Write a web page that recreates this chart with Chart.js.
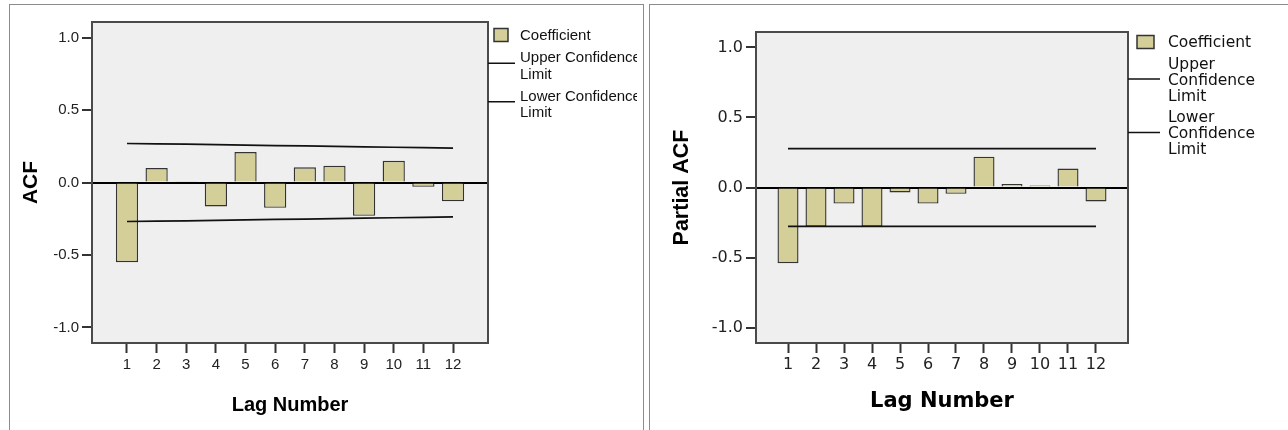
<!DOCTYPE html>
<html>
<head>
<meta charset="utf-8">
<title>ACF / PACF</title>
<script src="https://cdn.jsdelivr.net/npm/chart.js@4/dist/chart.umd.min.js"></script>
<style>
  html, body { margin: 0; padding: 0; background: #fff; width: 1288px; height: 430px; overflow: hidden; }
  .frame { position: absolute; top: 4px; height: 470px; border: 1px solid #8c8c8c; box-sizing: border-box; }
  #frameAcf { left: 9px; width: 635px; }
  #framePacf { left: 649px; width: 700px; }
  canvas { position: absolute; top: 0; }
  #acfChart { left: 0; }
  #pacfChart { left: 645px; }
</style>
</head>
<body>
<div class="frame" id="frameAcf"></div>
<div class="frame" id="framePacf"></div>
<canvas id="acfChart" width="637" height="430"></canvas>
<canvas id="pacfChart" width="643" height="430"></canvas>
<script>
// Lags and tick values
const lags = [1, 2, 3, 4, 5, 6, 7, 8, 9, 10, 11, 12];
const coefTicks = [-1.0, -0.5, 0.0, 0.5, 1.0];

// Autocorrelation function
const acfCoeff = [-0.55, 0.10, 0.006, -0.165, 0.21, -0.175, 0.105, 0.115, -0.23, 0.15, -0.03, -0.13];
const acfUpper = [0.269, 0.266, 0.264, 0.261, 0.258, 0.255, 0.252, 0.249, 0.246, 0.243, 0.240, 0.237];
const acfLower = [-0.269, -0.266, -0.264, -0.261, -0.258, -0.255, -0.252, -0.249, -0.246, -0.243, -0.240, -0.237];

// Partial autocorrelation function
const pacfCoeff = [-0.54, -0.28, -0.115, -0.28, -0.035, -0.115, -0.045, 0.22, 0.025, 0.015, 0.135, -0.10];
const pacfUpper = [0.277, 0.277, 0.277, 0.277, 0.277, 0.277, 0.277, 0.277, 0.277, 0.277, 0.277, 0.277];
const pacfLower = [-0.277, -0.277, -0.277, -0.277, -0.277, -0.277, -0.277, -0.277, -0.277, -0.277, -0.277, -0.277];

const seriesNames = ['Coefficient', 'Upper Confidence Limit', 'Lower Confidence Limit'];

const BAR_FILL = '#d4cf98';
const BAR_EDGE = '#333333';

// Grey plot area with a dark frame
const plotFrame = {
  id: 'plotFrame',
  beforeDraw(chart, args, o) {
    const { ctx, chartArea: a } = chart;
    ctx.save();
    ctx.fillStyle = o.fill;
    ctx.fillRect(a.left, a.top, a.right - a.left, a.bottom - a.top);
    ctx.restore();
  },
  afterDatasetsDraw(chart, args, o) {
    const { ctx, chartArea: a } = chart;
    ctx.save();
    ctx.strokeStyle = o.stroke;
    ctx.lineWidth = o.width;
    ctx.strokeRect(a.left, a.top, a.right - a.left, a.bottom - a.top);
    ctx.restore();
  }
};

function wrapWords(ctx, text, maxWidth) {
  const words = text.split(' ');
  const lines = [];
  let cur = '';
  words.forEach(w => {
    const test = cur ? cur + ' ' + w : w;
    if (cur && ctx.measureText(test).width > maxWidth) { lines.push(cur); cur = w; }
    else cur = test;
  });
  if (cur) lines.push(cur);
  return lines;
}

// Legend to the right of the plot: swatch for bars, short rule for limit lines
const sideLegend = {
  id: 'sideLegend',
  afterDraw(chart, args, o) {
    const ctx = chart.ctx;
    ctx.save();
    ctx.font = o.font;
    ctx.textBaseline = 'middle';
    ctx.textAlign = 'left';
    let y = o.top;
    chart.data.datasets.forEach(ds => {
      const lines = wrapWords(ctx, ds.label, o.wrapWidth);
      const last = y + (lines.length - 1) * o.lineHeight;
      const mid = (y + last) / 2;
      if (ds.type === 'bar') {
        ctx.fillStyle = ds.backgroundColor;
        ctx.fillRect(o.swatchX, mid - o.swatchH / 2 - 1, o.swatchW, o.swatchH);
        ctx.strokeStyle = ds.borderColor;
        ctx.lineWidth = 1.5;
        ctx.strokeRect(o.swatchX, mid - o.swatchH / 2 - 1, o.swatchW, o.swatchH);
      } else {
        ctx.strokeStyle = ds.borderColor;
        ctx.lineWidth = 1.5;
        ctx.beginPath();
        ctx.moveTo(o.markX, mid - o.lineLift);
        ctx.lineTo(o.markX + o.markLen, mid - o.lineLift);
        ctx.stroke();
      }
      ctx.fillStyle = '#111';
      lines.forEach((t, k) => ctx.fillText(t, o.textX, y + k * o.lineHeight));
      y = last + o.gap;
    });
    ctx.restore();
  }
};

function points(values) {
  return lags.map((lag, i) => ({ x: lag, y: values[i] }));
}

function buildChart(canvasId, s) {
  const datasets = [
    {
      type: 'bar', label: seriesNames[0], data: points(s.coeff),
      backgroundColor: BAR_FILL, borderColor: BAR_EDGE, borderWidth: 1.4,
      barPercentage: 0.75, categoryPercentage: 1.0, order: 2
    },
    {
      type: 'line', label: seriesNames[1], data: points(s.upper),
      borderColor: '#111', borderWidth: 1.7, pointRadius: 0, fill: false, tension: 0, order: 1
    },
    {
      type: 'line', label: seriesNames[2], data: points(s.lower),
      borderColor: '#111', borderWidth: 1.7, pointRadius: 0, fill: false, tension: 0, order: 1
    }
  ];

  return new Chart(document.getElementById(canvasId), {
    type: 'bar',
    data: { datasets },
    plugins: [plotFrame, sideLegend],
    options: {
      responsive: false,
      animation: false,
      devicePixelRatio: 1,
      events: [],
      layout: { padding: s.padding },
      plugins: {
        legend: { display: false },
        tooltip: { enabled: false },
        plotFrame: { fill: '#efefef', stroke: '#4a4a4a', width: 2 },
        sideLegend: s.legend
      },
      scales: {
        x: {
          type: 'linear', min: s.xMin, max: s.xMax, offset: false,
          afterBuildTicks: sc => { sc.ticks = lags.map(v => ({ value: v })); },
          afterFit: sc => { sc.height = s.xHeight; },
          border: { display: false },
          grid: { drawOnChartArea: false, offset: false, tickLength: 10, tickColor: '#333', tickWidth: 2 },
          ticks: { font: s.tickFont, color: '#222', padding: s.xTickPad, maxRotation: 0, autoSkip: false,
                   callback: v => String(v) },
          title: { display: true, text: 'Lag Number', font: s.xTitleFont, color: '#000',
                   padding: { top: 0, bottom: 2 } }
        },
        y: {
          type: 'linear', min: s.yMin, max: s.yMax,
          afterBuildTicks: sc => { sc.ticks = coefTicks.map(v => ({ value: v })); },
          afterFit: sc => { sc.width = s.yWidth; },
          border: { display: false },
          grid: {
            color: c => (c.tick && c.tick.value === 0) ? '#000' : 'rgba(0,0,0,0)',
            lineWidth: 2, tickLength: 10, tickColor: '#333', tickWidth: 2
          },
          ticks: { font: s.tickFont, color: '#222', padding: 3, callback: v => Number(v).toFixed(1) },
          title: { display: true, text: s.yTitle, font: s.yTitleFont, color: '#000',
                   padding: { top: s.yTitlePad, bottom: 0 } }
        }
      }
    }
  });
}

buildChart('acfChart', {
  coeff: acfCoeff, upper: acfUpper, lower: acfLower,
  yTitle: 'ACF',
  xMin: -0.18, xMax: 13.18, yMin: -1.107, yMax: 1.107,
  padding: { left: 10, top: 22, right: 149, bottom: 11 },
  yWidth: 82, xHeight: 76, xTickPad: 3, yTitlePad: 9,
  tickFont: { family: '"Liberation Sans", Arial, sans-serif', size: 15 },
  xTitleFont: { family: '"Liberation Sans", Arial, sans-serif', size: 20, weight: 'bold' },
  yTitleFont: { family: '"Liberation Sans", Arial, sans-serif', size: 21, weight: 'bold' },
  legend: {
    font: '15px "Liberation Sans", Arial, sans-serif',
    top: 36, lineHeight: 16.5, gap: 22, wrapWidth: 130,
    swatchX: 494, swatchW: 14, swatchH: 13,
    markX: 488, markLen: 27, lineLift: 3, textX: 520
  }
});

buildChart('pacfChart', {
  coeff: pacfCoeff, upper: pacfUpper, lower: pacfLower,
  yTitle: 'Partial ACF',
  xMin: -0.143, xMax: 13.143, yMin: -1.11, yMax: 1.11,
  padding: { left: 11, top: 32, right: 160, bottom: 14 },
  yWidth: 100, xHeight: 73, xTickPad: 2, yTitlePad: 13,
  tickFont: { family: '"DejaVu Sans", Verdana, sans-serif', size: 16 },
  xTitleFont: { family: '"DejaVu Sans", Verdana, sans-serif', size: 21, weight: 'bold' },
  yTitleFont: { family: '"Liberation Sans", Arial, sans-serif', size: 21.5, weight: 'bold' },
  legend: {
    font: '15.5px "DejaVu Sans", Verdana, sans-serif',
    top: 43, lineHeight: 16, gap: 21.5, wrapWidth: 70,
    swatchX: 492, swatchW: 17, swatchH: 13,
    markX: 483, markLen: 32, lineLift: 1.5, textX: 523
  }
});
</script>
</body>
</html>
